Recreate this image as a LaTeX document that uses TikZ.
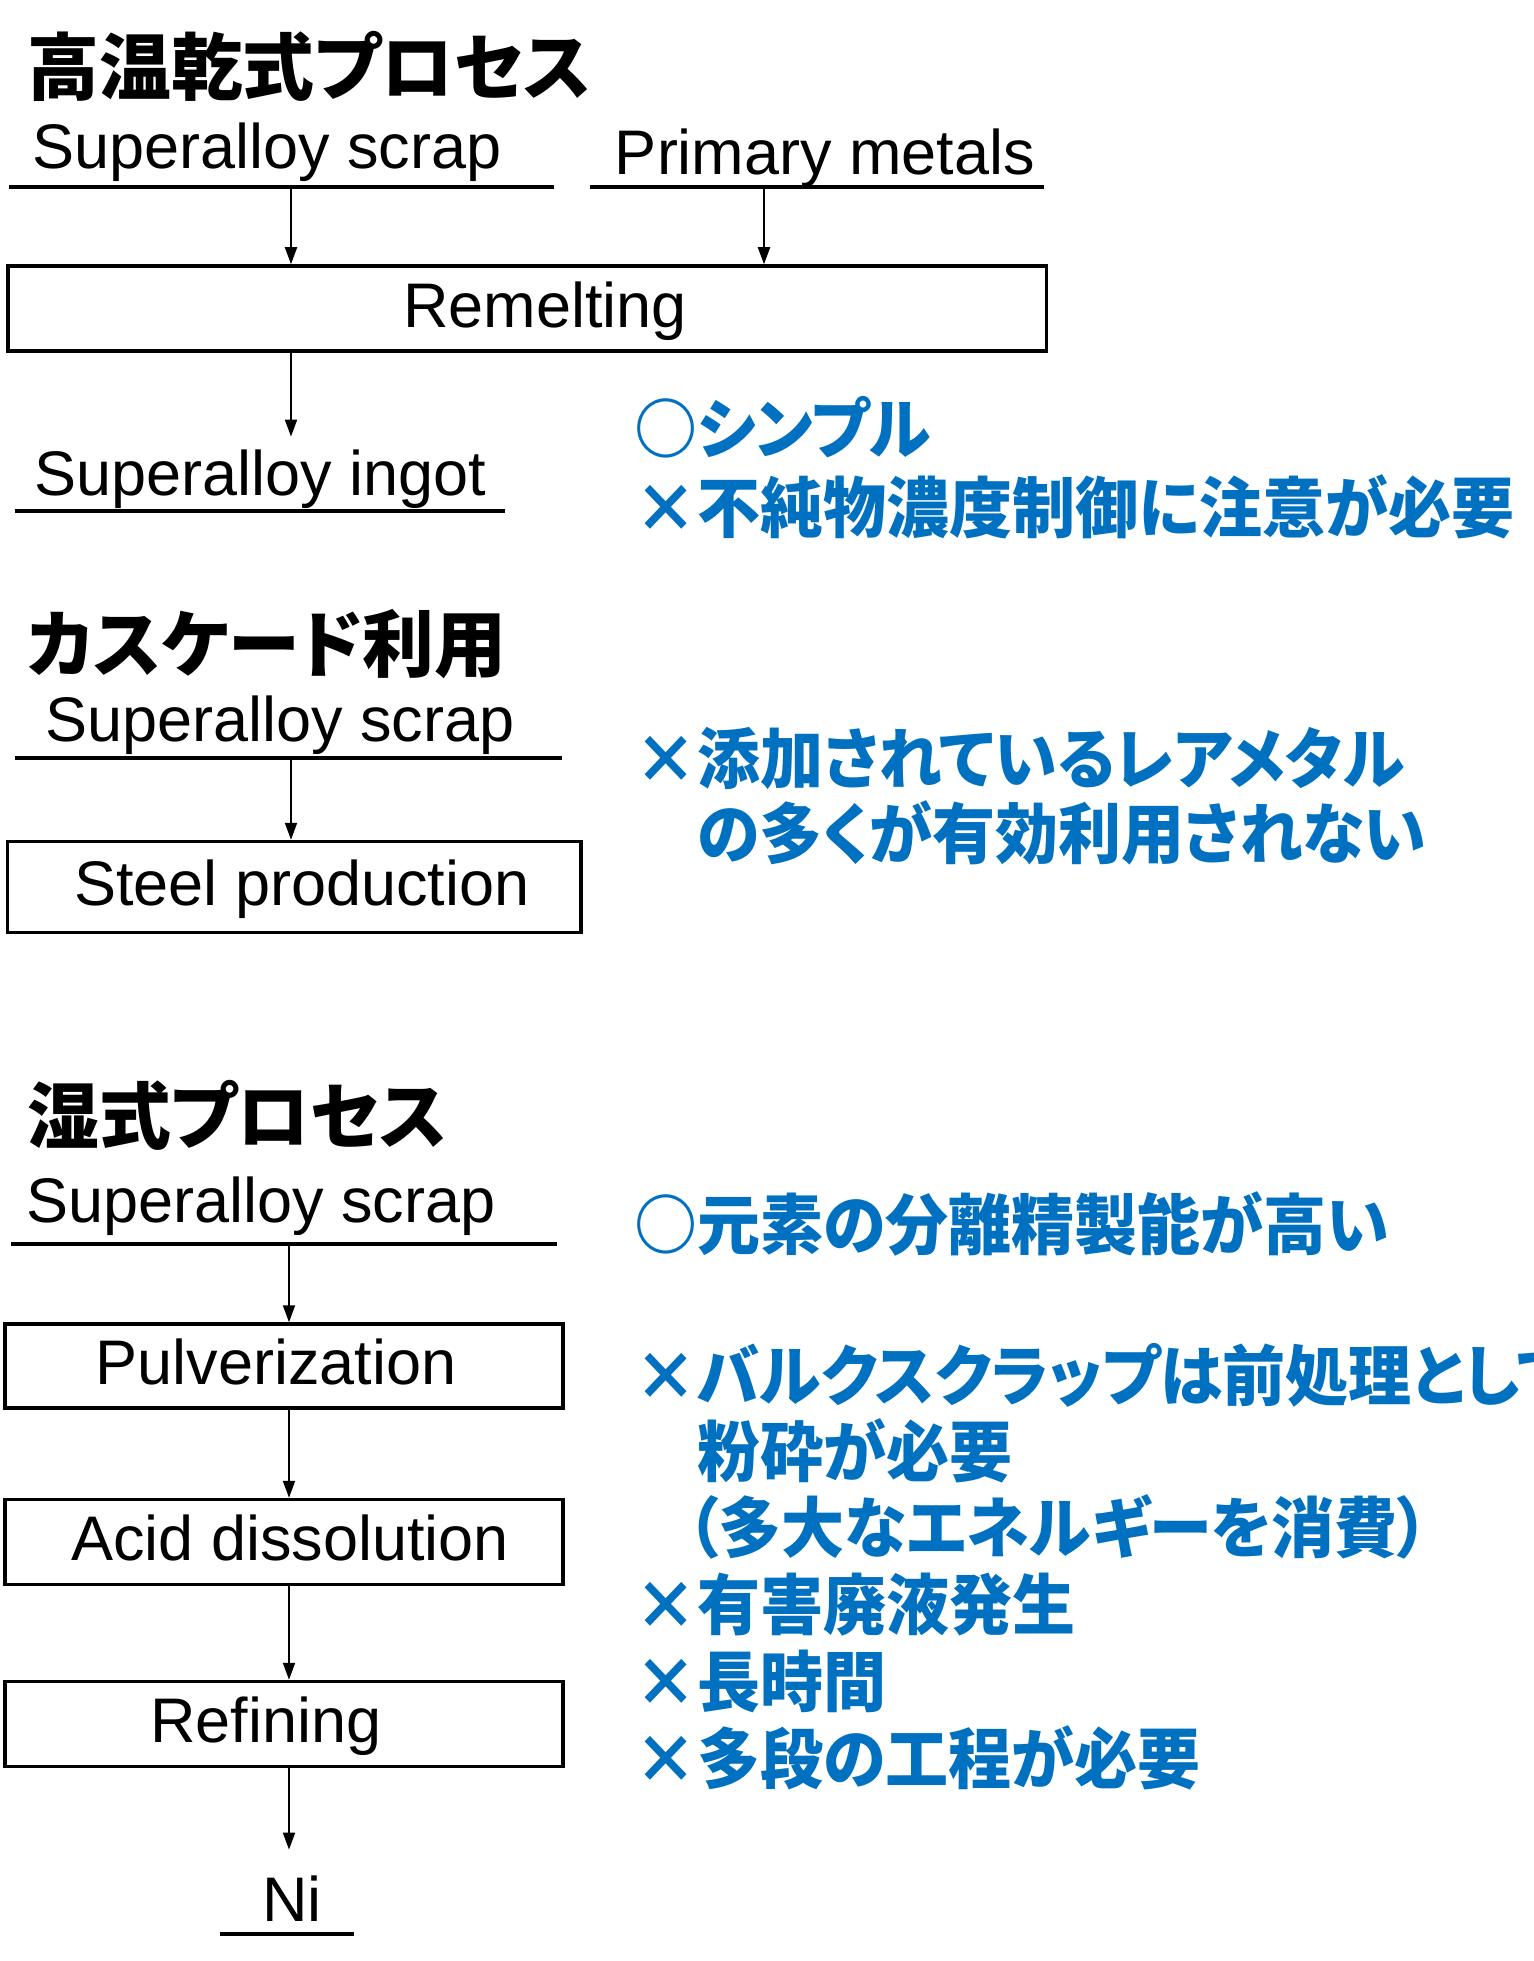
\documentclass[tikz,border=0pt]{standalone}
\usepackage{fontspec}
\setmainfont{Liberation Sans}
\newfontfamily\jp{Noto Sans CJK JP}[RawFeature=+palt, FakeStretch=0.985]
\newfontfamily\jpb{Noto Sans CJK JP}[RawFeature=+palt, FakeStretch=0.955]
\usetikzlibrary{arrows.meta}
\definecolor{jblue}{HTML}{0070C0}
\begin{document}
\begin{tikzpicture}[x=1pt,y=-1pt,
  lat/.style={font=\fontsize{63}{72}\selectfont},
  ulbl/.style={lat, anchor=south, inner xsep=0pt, inner ysep=0pt, text height=50pt},
  procbox/.style={lat, draw, line width=3.5pt, inner sep=0pt, text height=48pt, text depth=11pt},
  ttl/.style={font=\jp\bfseries\fontsize{73}{80}\selectfont, anchor=base west, inner sep=0pt},
  bl/.style={font=\jpb\bfseries\fontsize{66}{76}\selectfont, text=jblue, anchor=base west, inner sep=0pt},
  arr/.style={-{Triangle[length=17pt,width=12pt]}, line width=2pt},
  ulline/.style={line width=3.5pt}]
\fill[white] (0,0) rectangle (1533,1961);
\useasboundingbox (0,0) rectangle (1533,1961);
\coordinate (ax1) at (291,0);
\coordinate (ax2) at (764,0);
\coordinate (ax3) at (289,0);
% Section 1
\node[ttl] (t1) at (27,95) {高温乾式プロセス};
\node[ulbl, minimum width=545, text depth=18pt] (s1) at (281.5,187) {\hspace*{-29pt}Superalloy scrap};
\node[ulbl, minimum width=454, text depth=12pt] (pm) at (817,187) {\hspace*{16pt}Primary metals};
\draw[ulline] (s1.south west) -- (s1.south east);
\draw[ulline] (pm.south west) -- (pm.south east);
\node[procbox, minimum width=1038.5, minimum height=85] (rem) at (527,308.5) {\hspace*{36pt}Remelting};
\draw[arr] (s1.south -| ax1) -- (rem.north -| ax1);
\draw[arr] (pm.south -| ax2) -- (rem.north -| ax2);
\node[ulbl, minimum width=490, text height=59pt, text depth=15pt] (ing) at (260,511) {Superalloy ingot};
\draw[ulline] (ing.south west) -- (ing.south east);
\draw[arr] (rem.south -| ax1) -- (ing.north -| ax1);
\node[bl] (b1) at (634,453) {○シンプル};
\node[bl] (b2) at (634,532) {×不純物濃度制御に注意が必要};
% Section 2
\node[ttl] (t2) at (27,671) {カスケード利用};
\node[ulbl, minimum width=547, text depth=16pt] (s2) at (288.5,758) {\hspace*{-17pt}Superalloy scrap};
\draw[ulline] (s2.south west) -- (s2.south east);
\node[procbox, minimum width=573.5, minimum height=91] (stl) at (294,887) {\hspace*{16pt}Steel production};
\draw[arr] (s2.south -| ax1) -- (stl.north -| ax1);
\node[bl] (b3) at (634,783) {×添加されているレアメタル};
\node[bl] (b4) at (634,858) {　の多くが有効利用されない};
% Section 3
\node[ttl] (t3) at (27,1143) {湿式プロセス};
\node[ulbl, minimum width=546, text depth=21pt] (s3) at (284,1244) {\hspace*{-46pt}Superalloy scrap};
\draw[ulline] (s3.south west) -- (s3.south east);
\node[procbox, minimum width=558, minimum height=84] (pul) at (284,1366) {\hspace*{-16pt}Pulverization};
\node[procbox, minimum width=558, minimum height=85] (acid) at (284,1542) {\hspace*{12pt}Acid dissolution};
\node[procbox, minimum width=558, minimum height=85] (ref) at (284,1724) {\hspace*{-36pt}Refining};
\node[ulbl, minimum width=134, text height=72pt, text depth=12pt] (ni) at (287,1934) {\hspace*{10pt}Ni};
\draw[ulline] (ni.south west) -- (ni.south east);
\draw[arr] (s3.south -| ax3) -- (pul.north -| ax3);
\draw[arr] (pul.south -| ax3) -- (acid.north -| ax3);
\draw[arr] (acid.south -| ax3) -- (ref.north -| ax3);
\draw[arr] (ref.south -| ax3) -- (ni.north -| ax3);
\node[bl] (b5) at (634,1249) {○元素の分離精製能が高い};
\node[bl] (b6) at (634,1400) {×バルクスクラップは前処理として};
\node[bl] (b7) at (634,1476) {　粉砕が必要};
\node[bl] (b8) at (624,1552) {　（多大なエネルギーを消費）};
\node[bl] (b9) at (634,1629) {×有害廃液発生};
\node[bl] (b10) at (634,1706) {×長時間};
\node[bl] (b11) at (634,1783) {×多段の工程が必要};
\end{tikzpicture}
\end{document}
